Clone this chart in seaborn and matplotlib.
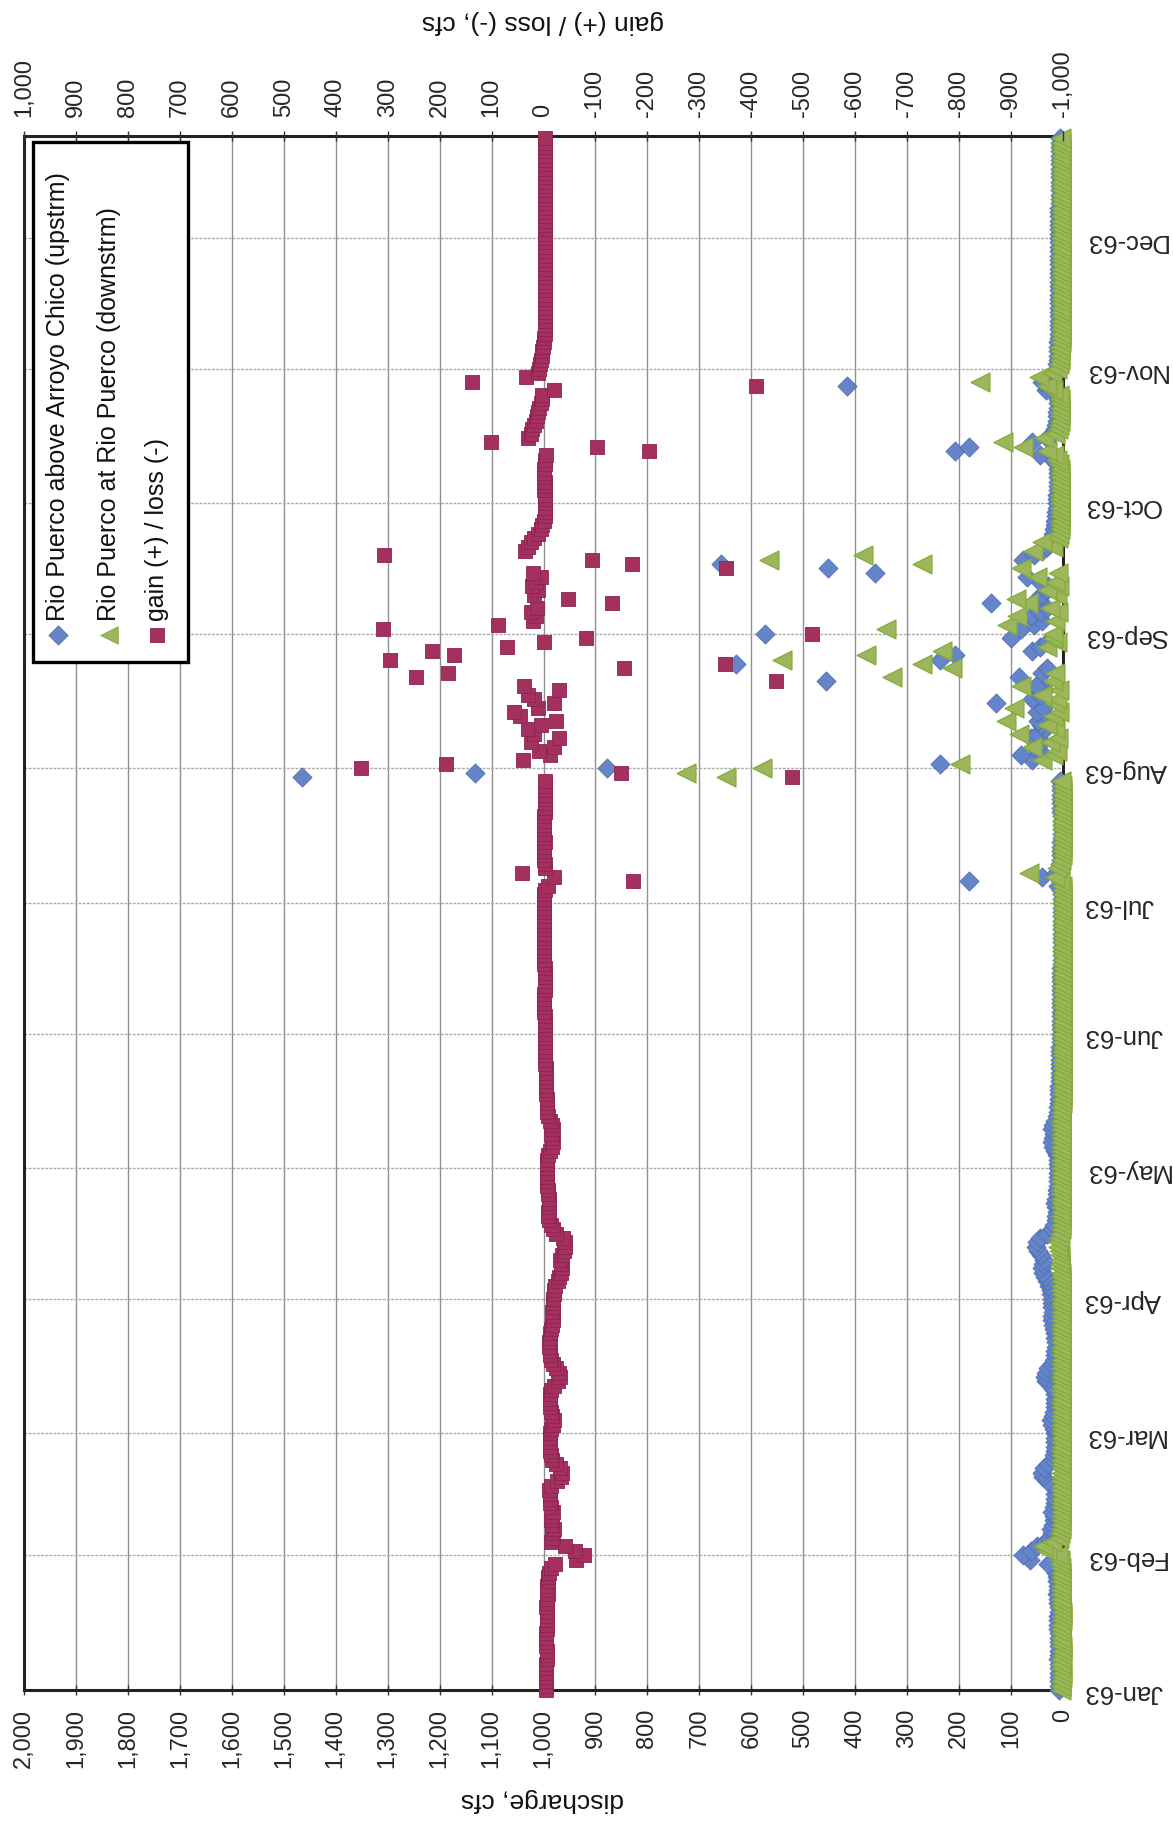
import matplotlib
matplotlib.use("Agg")
import matplotlib.pyplot as plt
import matplotlib.dates as mdates
from matplotlib.patches import Rectangle
import pandas as pd
import seaborn as sns

# Daily discharge, Rio Puerco above Arroyo Chico (upstream), cfs
up_jan = [8, 8, 7, 7, 7, 8, 8, 9, 8, 8, 7, 7, 8, 8, 9, 10, 9, 9, 8, 8,
          9, 10, 11, 10, 10, 11, 12, 14, 18, 28, 63]
up_feb = [76, 62, 50, 34, 26, 22, 24, 20, 18, 17, 22, 18, 16, 15, 15, 14, 18, 30,
          38, 40, 36, 28, 20, 17, 16, 15, 15, 16]
up_mar = [16, 18, 22, 24, 20, 18, 16, 15, 15, 16, 18, 24, 32, 35, 33, 28, 22, 18,
          16, 15, 14, 14, 15, 16, 18, 20, 22, 22, 20, 21, 22]
up_apr = [22, 24, 24, 26, 30, 34, 38, 40, 38, 36, 42, 48, 52, 50, 45, 30, 22, 18,
          14, 13, 12, 14, 15, 14, 12, 11, 10, 10, 9, 9]
up_may = [9, 9, 10, 12, 16, 20, 22, 20, 18, 22, 20, 16, 12, 10, 9, 8, 8, 7, 7, 7,
          6, 6, 6, 6, 5, 5, 5, 5, 5, 4, 4]
up_jun = [4, 4, 4, 4, 4, 3, 3, 3, 3, 3, 3, 3, 3, 3, 3, 3, 2, 2, 2, 2, 2, 2, 2, 2,
          2, 2, 2, 2, 2, 2]
up_jul = [2, 2, 2, 3, 10, 180, 40, 14, 7, 5, 4, 3, 3, 3, 3, 2, 2, 2, 2, 2, 2, 3,
          3, 3, 3, 3, 4, 4, 5, 1464, 1132]
up_aug = [877, 237, 60, 81, 45, 55, 40, 62, 50, 35, 42, 48, 30, 50, 38, 129, 60,
          45, 35, 52, 457, 85, 40, 30, 630, 237, 208, 60, 45, 30, 100]
up_sep = [574, 80, 55, 40, 62, 45, 30, 139, 50, 40, 32, 28, 45, 70, 362, 452, 659,
          76, 55, 40, 30, 25, 22, 20, 18, 16, 15, 14, 13, 12]
up_oct = [12, 11, 11, 10, 10, 10, 9, 9, 10, 12, 20, 45, 208, 181, 60, 30, 20, 15,
          13, 12, 11, 11, 10, 10, 10, 12, 32, 415, 40, 22, 15]
up_nov = [12, 11, 10, 10, 9, 9, 9, 8, 8, 8, 8, 8, 8, 8, 7, 7, 7, 7, 7, 7, 7, 7, 7,
          7, 7, 7, 7, 7, 7, 7]
up_dec = [7, 7, 7, 7, 7, 7, 7, 7, 6, 6, 6, 6, 6, 6, 6, 6, 6, 6, 6, 6, 6, 6, 6, 6]

# Daily discharge, Rio Puerco at Rio Puerco (downstream), cfs
dn_jan = [3, 3, 3, 2, 2, 3, 3, 3, 2, 2, 2, 3, 3, 3, 3, 3, 2, 2, 2, 3, 3, 3, 3, 3,
          3, 3, 4, 4, 4, 5, 6]
dn_feb = [10, 30, 38, 22, 8, 5, 4, 4, 3, 3, 4, 4, 3, 3, 3, 3, 3, 4, 4, 4, 4, 3, 3,
          3, 3, 3, 3, 3]
dn_mar = [3, 3, 4, 4, 3, 3, 3, 3, 3, 3, 3, 3, 4, 4, 4, 3, 3, 3, 3, 3, 3, 3, 3, 3,
          3, 3, 3, 3, 3, 3, 3]
dn_apr = [3, 3, 3, 3, 3, 4, 4, 5, 5, 5, 6, 8, 10, 9, 7, 5, 4, 4, 4, 4, 4, 4, 4, 4,
          4, 3, 3, 3, 3, 3]
dn_may = [3, 3, 3, 3, 3, 3, 3, 3, 3, 3, 3, 3, 3, 3, 3, 2, 2, 2, 2, 2, 2, 2, 2, 2,
          2, 2, 2, 2, 2, 2, 2]
dn_jun = [2, 2, 2, 2, 2, 2, 2, 2, 2, 2, 1, 1, 1, 1, 1, 1, 1, 1, 1, 1, 1, 1, 1, 1,
          1, 1, 1, 1, 1, 1]
dn_jul = [1, 1, 1, 1, 2, 5, 15, 65, 12, 5, 3, 2, 2, 2, 1, 1, 1, 1, 1, 1, 1, 1, 1,
          1, 1, 1, 2, 2, 3, 648, 726]
dn_aug = [579, 198, 40, 20, 12, 60, 25, 10, 85, 15, 30, 110, 20, 8, 95, 18, 12,
          40, 8, 80, 20, 330, 15, 213, 271, 540, 379, 232, 30, 12, 20]
dn_sep = [20, 340, 108, 15, 88, 10, 25, 68, 90, 12, 30, 8, 15, 50, 10, 80, 271,
          565, 384, 57, 20, 40, 10, 8, 6, 5, 5, 5, 5, 5]
dn_oct = [5, 5, 5, 5, 5, 5, 5, 5, 6, 8, 12, 18, 30, 76, 115, 37, 15, 10, 8, 6,
          6, 5, 5, 5, 5, 8, 20, 30, 159, 46, 22]
dn_nov = [12, 8, 6, 5, 5, 5, 4, 4, 4, 4, 4, 4, 4, 4, 4, 4, 4, 4, 4, 4, 4, 4, 4,
          4, 4, 4, 4, 4, 4, 4]
dn_dec = [4, 4, 4, 4, 4, 4, 4, 4, 4, 4, 4, 4, 4, 4, 4, 4, 4, 4, 4, 4, 4, 4, 4, 4]

# Daily gain (+) / loss (-) between the two gages, cfs
gn_jan = [-5, -5, -4, -5, -5, -5, -5, -6, -6, -6, -5, -4, -5, -5, -6, -7, -7, -7,
          -6, -5, -6, -7, -8, -7, -7, -8, -8, -10, -14, -23, -62]
gn_feb = [-77, -60, -41, -14, -18, -17, -20, -16, -15, -14, -18, -14, -13, -12,
          -12, -11, -15, -26, -34, -36, -32, -25, -17, -14, -13, -12, -12, -13]
gn_mar = [-13, -15, -18, -20, -17, -15, -13, -12, -12, -13, -15, -21, -28, -31,
          -29, -25, -19, -15, -13, -12, -11, -11, -12, -13, -15, -17, -19, -19,
          -17, -18, -19]
gn_apr = [-19, -21, -21, -23, -27, -30, -34, -35, -33, -31, -36, -40, -42, -41,
          -38, -25, -18, -14, -10, -9, -8, -10, -11, -10, -8, -8, -7, -7, -6, -6]
gn_may = [-6, -6, -7, -9, -13, -17, -19, -17, -15, -19, -17, -13, -9, -7, -6, -6,
          -6, -5, -5, -5, -4, -4, -4, -4, -3, -3, -3, -3, -3, -2, -2]
gn_jun = [-2, -2, -2, -2, -2, -1, -1, -1, -1, -1, -2, -2, -2, -2, -2, -2, -1, -1,
          -1, -1, -1, -1, -1, -1, -1, -1, -1, -1, -1, -1]
gn_jul = [-1, -1, -1, -2, -8, -173, -20, 42, -3, -2, -1, -1, -1, -1, -2, -1, -1,
          -1, -1, -1, -1, -2, -2, -2, -2, -2, -2, -2, -3, -479, -149]
gn_aug = [351, 188, 39, -12, 8, -20, 25, -30, 19, 30, 5, -25, 45, 56, 10, -20, 19,
          29, -30, 38, -448, 246, 183, -155, -349, 295, 173, 215, 70, 0, -82]
gn_sep = [-517, 309, 88, 20, 15, 25, 12, -132, -47, 18, 10, 22, 15, 5, 20, -352,
          -170, -93, 307, 35, 30, 25, 18, 10, 5, 2, 0, -2, -3, -3]
gn_oct = [-2, -2, -2, -1, -2, -2, -1, -1, -1, -2, -3, -5, -203, -103, 102, 29, 25,
          22, 18, 15, 12, 10, 8, 5, 3, 2, -20, -409, 138, 34, 10]
gn_nov = [8, 6, 4, 3, 2, 1, 0, -1, -2, -2, -3, -3, -3, -3, -3, -3, -3, -3, -3, -3,
          -3, -3, -3, -3, -3, -3, -3, -3, -3, -3]
gn_dec = [-3, -3, -3, -3, -3, -3, -3, -2, -2, -2, -2, -2, -2, -2, -2, -2, -2, -2,
          -2, -2, -2, -2, -2, -2]

upstream = (up_jan + up_feb + up_mar + up_apr + up_may + up_jun + up_jul + up_aug
            + up_sep + up_oct + up_nov + up_dec)
downstream = (dn_jan + dn_feb + dn_mar + dn_apr + dn_may + dn_jun + dn_jul + dn_aug
              + dn_sep + dn_oct + dn_nov + dn_dec)
gain = (gn_jan + gn_feb + gn_mar + gn_apr + gn_may + gn_jun + gn_jul + gn_aug
        + gn_sep + gn_oct + gn_nov + gn_dec)

series_labels = ["Rio Puerco above Arroyo Chico (upstrm)",
                 "Rio Puerco at Rio Puerco (downstrm)",
                 "gain (+) / loss (-)"]
discharge_ticks = list(range(0, 2001, 100))
gain_ticks = list(range(-1000, 1001, 100))

BLUE, BLUE_EDGE = "#6685C9", "#4E6FB6"
GREEN, GREEN_EDGE = "#9DB65E", "#84AC38"
MAROON, MAROON_EDGE = "#A3305F", "#8D2453"

sns.set_theme(style="white")
plt.rcParams["font.family"] = ["Liberation Sans", "DejaVu Sans"]

dates = pd.date_range("1963-01-01", periods=len(upstream), freq="D")
df = pd.DataFrame({"date": dates, "upstream": upstream,
                   "downstream": downstream, "gain": gain})

fig = plt.figure(figsize=(11.73, 18.23), dpi=100)
ax = fig.add_axes([0.0205, 0.0730, 0.8857, 0.8524])
ax2 = ax.twiny()

sns.scatterplot(data=df, x="upstream", y="date", ax=ax, marker="D", s=95,
                color=BLUE, edgecolor=BLUE_EDGE, linewidth=0.6, zorder=3,
                clip_on=False, legend=False)
sns.scatterplot(data=df, x="downstream", y="date", ax=ax, marker="<", s=185,
                color=GREEN, edgecolor=GREEN_EDGE, linewidth=0.9, zorder=4,
                clip_on=False, legend=False)
sns.scatterplot(data=df, x="gain", y="date", ax=ax2, marker="s", s=105,
                color=MAROON, edgecolor=MAROON_EDGE, linewidth=0.6, zorder=3,
                clip_on=False, legend=False)

# discharge axis (bottom), reversed so 0 sits on the right
ax.set_xticks(discharge_ticks)
ax.set_xticklabels([f"{v:,}" for v in discharge_ticks])
ax.tick_params(axis="x", direction="inout", length=7, width=1, color="#333333",
               pad=10, labelsize=17, labelrotation=90)

# gain / loss axis (top)
ax2.set_xticks(gain_ticks)
ax2.set_xticklabels([f"{v:,}" for v in gain_ticks])
ax2.tick_params(axis="x", direction="inout", length=7, width=1, color="#333333",
                pad=10, labelsize=17, labelrotation=90)

# date axis on the right
months = pd.date_range("1963-01-01", periods=12, freq="MS")
ax.yaxis.tick_right()
ax.set_yticks(mdates.date2num(months))
ax.set_yticklabels([d.strftime("%b-%y") for d in months])
ax.tick_params(axis="y", length=0, pad=15, labelsize=18.5, labelrotation=180)

for a in (ax, ax2):
    a.set_xlabel("")
    a.set_ylabel("")

ax.set_axisbelow(True)
ax.grid(True, axis="x", color="#8f8f8f", linewidth=1.0)
ax.grid(True, axis="y", color="#ababab", linewidth=1.0, linestyle=(0, (2, 1)))
for s in ax.spines.values():
    s.set_color("#222222")
    s.set_linewidth(2.2)
for s in ax2.spines.values():
    s.set_visible(False)

# legend box with vertical entries
ax2.add_patch(Rectangle((0.0087, 0.6615), 0.149, 0.3346, transform=ax2.transAxes,
                        facecolor="white", edgecolor="black", linewidth=2.4,
                        zorder=10, clip_on=False))
legend_x = [0.0330, 0.0815, 0.1280]
legend_style = [("D", 95, BLUE, BLUE_EDGE), ("<", 160, GREEN, GREEN_EDGE),
                ("s", 105, MAROON, MAROON_EDGE)]
for x, label, (mk, sz, fc, ec) in zip(legend_x, series_labels, legend_style):
    ax2.scatter([x], [0.679], transform=ax2.transAxes, marker=mk, s=sz,
                color=fc, edgecolor=ec, linewidth=0.6, zorder=11, clip_on=False)
    ax2.text(x, 0.688, label, transform=ax2.transAxes, rotation=90,
             ha="center", va="bottom", fontsize=18, color="#111111", zorder=12)

ax.set_xlim(2000, 0)
ax2.set_xlim(1000, -1000)
ax.set_ylim(mdates.date2num(pd.Timestamp("1963-01-01")),
            mdates.date2num(pd.Timestamp("1963-12-24 12:00")))

fig.text(543 / 1173, 1 - 22 / 1823, "gain (+) / loss (-), cfs", rotation=180,
         ha="center", va="center", fontsize=19, color="#111111")
fig.text(542 / 1173, 1 - 1800 / 1823, "discharge, cfs", rotation=180,
         ha="center", va="center", fontsize=19, color="#111111")

fig.savefig("out.png", dpi=100)
